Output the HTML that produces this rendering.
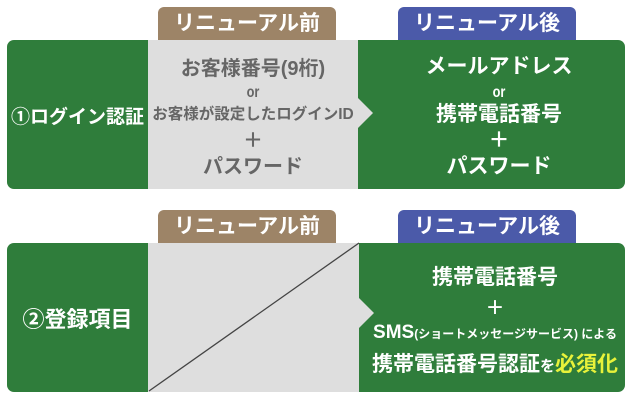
<!DOCTYPE html>
<html><head><meta charset="utf-8"><style>
body{margin:0;width:635px;height:400px;background:#fff;overflow:hidden;font-family:"Liberation Sans","Noto Sans CJK JP",sans-serif;font-weight:bold;}
.a{position:absolute;}
.tab{position:absolute;height:33px;border-radius:6px 6px 0 0;color:#fff;font-size:21px;text-align:center;line-height:33px;}
.g{background:#2f7d3b;color:#fff;}
.c{position:absolute;text-align:center;white-space:nowrap;}
</style></head><body>
<div class="tab" style="left:158px;top:7px;width:178px;background:#9d8467">リニューアル前</div>
<div class="tab" style="left:398px;top:7px;width:178px;background:#4b5aa9">リニューアル後</div>
<div class="a g" style="left:7px;top:40px;width:618px;height:149px;border-radius:7px"></div>
<div class="tab" style="left:158px;top:210px;width:178px;background:#9d8467">リニューアル前</div>
<div class="tab" style="left:398px;top:210px;width:178px;background:#4b5aa9">リニューアル後</div>
<div class="a g" style="left:7px;top:243px;width:618px;height:149px;border-radius:7px"></div>
<svg class="a" style="left:0;top:0" width="635" height="400">
<polygon points="148,40 358,40 358,98 373,113 358,128 358,189 148,189" fill="#dedede"/>
<polygon points="148,243 359,243 359,298 374,313 359,328 359,392 148,392" fill="#dedede"/>
<line x1="149" y1="391" x2="359" y2="243" stroke="#444" stroke-width="1.3"/>
</svg>
<div class="c" style="left:7px;width:141px;top:102px;font-size:19px;color:#fff">①ログイン認証</div>
<div class="c" style="left:148px;width:210px;top:58px;font-size:20px;color:#666;line-height:22px">お客様番号(9桁)<br><span style="font-size:16px;line-height:12px;display:inline-block;transform:scaleX(0.8)">or</span><br><span style="font-size:15.5px">お客様が設定したログインID</span><br><span style="line-height:30px">＋</span><br>パスワード</div>
<div class="c" style="left:374px;width:250px;top:55px;font-size:21px;color:#fff;line-height:24px">メールアドレス<br><span style="font-size:16px;line-height:16px;display:inline-block;transform:scaleX(0.8)">or</span><br>携帯電話番号<br><span style="line-height:28px">＋</span><br>パスワード</div>
<div class="c" style="left:7px;width:141px;top:302px;font-size:22px;color:#fff">②登録項目</div>
<div class="c" style="left:364px;width:262px;top:258px;font-size:21px;color:#fff;line-height:40px">携帯電話番号</div>
<div class="c" style="left:364px;width:262px;top:293px;font-size:19px;color:#fff">＋</div>
<div class="c" style="left:364px;width:262px;top:322px;font-size:12px;color:#fff"><span style="font-size:19px">SMS</span>(ショートメッセージサービス) による</div>
<div class="c" style="left:364px;width:262px;top:348px;font-size:21px;color:#fff">携帯電話番号認証<span style="font-size:15px">を</span><span style="color:#e8f23a">必須化</span></div>
</body></html>
